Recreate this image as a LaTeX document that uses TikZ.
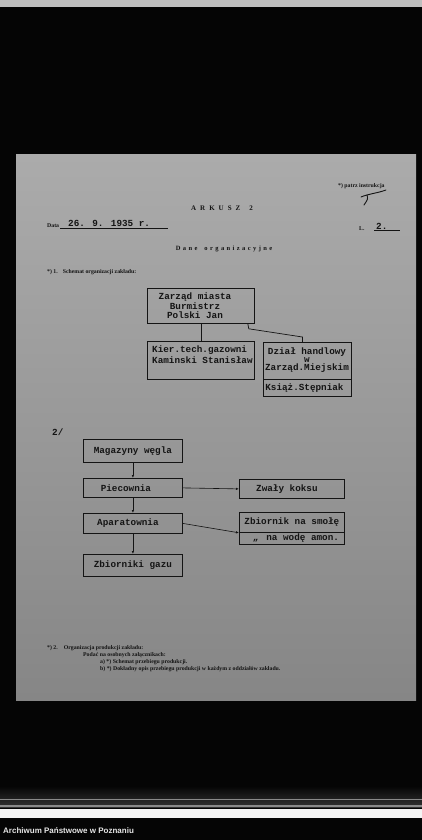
\documentclass[tikz,border=0pt]{standalone}
\usepackage{fontspec}
\setmainfont{Liberation Serif}
\newfontfamily\typewr{Liberation Mono}
\newfontfamily\archsans{Liberation Sans}
\usetikzlibrary{positioning,calc,arrows.meta}
\usepackage{xcolor}
\definecolor{ink}{HTML}{141414}
\definecolor{papertop}{HTML}{ABABAB}
\definecolor{papermid}{HTML}{A0A0A0}
\definecolor{paperbottom}{HTML}{868686}
\definecolor{scanblack}{HTML}{050505}
\definecolor{stripgrey}{HTML}{BEBEBE}
\definecolor{streakgrey}{HTML}{333333}
\definecolor{streakline}{HTML}{8A8A8A}
\definecolor{bandwhite}{HTML}{F4F4F4}
\definecolor{captiontext}{HTML}{E6E6E6}

\tikzset{
  box/.style={draw=ink, line width=0.8pt, anchor=north west, inner sep=0pt,
    text=ink, align=center, font=\typewr\bfseries\fontsize{9.3}{10.5}\selectfont},
  typed/.style={text=ink, inner sep=0pt, font=\typewr\bfseries\fontsize{9.3}{11}\selectfont},
  formtext/.style={text=ink, inner sep=0pt, anchor=west, font=\bfseries\fontsize{5.8}{7}\selectfont},
  link/.style={draw=ink, line width=0.7pt},
  flow/.style={draw=ink, line width=0.6pt, -{Latex[length=3pt,width=2.4pt]}},
  rule/.style={draw=ink, line width=0.4pt}
}

\begin{document}
\begin{tikzpicture}[x=1pt,y=-1pt]
    \useasboundingbox (0,0) rectangle (422,840);
    % scan background
    \fill[scanblack] (0,0) rectangle (422,840);
    \fill[stripgrey] (0,0) rectangle (422,7);
    \shade[top color=papertop, middle color=papermid, bottom color=paperbottom] (16,154) rectangle (416,700);
    \shade[top color=scanblack, bottom color=streakgrey] (0,786) rectangle (422,807);
    \fill[streakline] (0,799) rectangle (422,800);
    \fill[streakline] (0,805) rectangle (422,807);
    \fill[bandwhite] (0,809) rectangle (422,818);
    \node[text=captiontext, font=\archsans\bfseries\fontsize{8}{9}\selectfont, anchor=west, inner sep=0pt] (archiwum) at (3,831) {Archiwum Państwowe w Poznaniu};

    % form header
    \node[formtext] (patrz) at (338,186) {*) patrz instrukcja};
    \draw[ink, line width=0.9pt, line cap=round] (361,197) .. controls (368,194) and (378,193) .. (386,190);
    \draw[ink, line width=0.9pt, line cap=round] (367,195) .. controls (368,199) .. (364,205);
    \node[text=ink, inner sep=0pt, font=\bfseries\fontsize{7}{8}\selectfont] (arkusz) at (222,208)
      {A\hspace{4pt}R\hspace{4pt}K\hspace{4pt}U\hspace{4pt}S\hspace{4pt}Z\hspace{9pt}2};
    \node[formtext] (data) at (47,226) {Data};
    \node[typed, anchor=west] (datum) at (68,223) {26. 9. 1935 r.};
    \draw[rule] (60,228) -- (168,228);
    \node[formtext] (lnr) at (359,229) {L.};
    \node[typed, anchor=west] (lnum) at (376,226) {2.};
    \draw[rule] (374,230) -- (400,230);
    \node[text=ink, inner sep=0pt, font=\bfseries\fontsize{6.5}{8}\selectfont] (dane) at (224,249)
      {D\hspace{2.4pt}a\hspace{2.4pt}n\hspace{2.4pt}e\hspace{7pt}o\hspace{2.4pt}r\hspace{2.4pt}g\hspace{2.4pt}a\hspace{2.4pt}n\hspace{2.4pt}i\hspace{2.4pt}z\hspace{2.4pt}a\hspace{2.4pt}c\hspace{2.4pt}y\hspace{2.4pt}j\hspace{2.4pt}n\hspace{2.4pt}e};
    \node[formtext] (punkt1) at (47,272) {*) 1.\hspace{5pt}Schemat organizacji zakładu:};

    % schemat 1
    \node[box, minimum width=107pt, minimum height=35pt] (zarzad) at (147,288) {};
    \node[typed, align=center, font=\typewr\bfseries\fontsize{9.3}{9.6}\selectfont] (zarzadtxt) at (195,306) {Zarząd miasta\\Burmistrz\\Polski Jan};
    \node[box, minimum width=107pt, minimum height=38pt] (kier) at (147,341) {};
    \node[typed, align=left, anchor=north west] (kiertxt) at (152,346) {Kier.tech.gazowni\\Kaminski Stanisław};
    \node[box, minimum width=88pt, minimum height=37pt] (dzial) at (263,342) {};
    \node[typed, align=center, font=\typewr\bfseries\fontsize{9.3}{8.2}\selectfont] (dzialtxt) at (307,360) {Dział handlowy\\w\\Zarząd.Miejskim};
    \node[box, minimum width=88pt, minimum height=17pt, text width=84pt, align=left] (ksiaz) at (263,379) {Książ.Stępniak};

    \draw[link] (zarzad.south) -- (kier.north);
    \draw[link] ($(zarzad.south east)+(-7,0)$) -- ++(1,5) -- ($(dzial.north)+(-5,-5)$) -- ($(dzial.north)+(-5,0)$);

    % schemat 2
    \node[typed, anchor=west] (dwa) at (52,432) {2/};
    \node[box, minimum width=99pt, minimum height=23pt] (magazyny) at (83,439) {Magazyny węgla};
    \node[box, minimum width=99pt, minimum height=19pt] (piecownia) at (83,478) {Piecownia\hspace{14pt}};
    \node[box, minimum width=99pt, minimum height=20pt] (aparatownia) at (83,513) {Aparatownia\hspace{10pt}};
    \node[box, minimum width=99pt, minimum height=22pt] (zbiorniki) at (83,554) {Zbiorniki gazu};
    \node[box, minimum width=105pt, minimum height=19pt] (zwaly) at (239,479) {Zwały koksu\hspace{10pt}};
    \node[box, minimum width=105pt, minimum height=20pt] (smola) at (239,512) {Zbiornik na smołę};
    \node[box, minimum width=105pt, minimum height=12pt, font=\typewr\bfseries\fontsize{9.3}{9}\selectfont] (woda) at (239,532) {\hspace{8pt}„\hspace{8pt}na wodę amon.};

    \draw[flow] (magazyny.south) -- (piecownia.north);
    \draw[flow] (piecownia.south) -- (aparatownia.north);
    \draw[flow] (aparatownia.south) -- (zbiorniki.north);
    \draw[flow] (piecownia.east) -- (zwaly.west);
    \draw[flow] (aparatownia.east) -- (smola.south west);

    % footnote
    \node[formtext] (punkt2) at (47,648) {*) 2.\hspace{6pt}Organizacja produkcji zakładu:};
    \node[formtext] (podac) at (83,655) {Podać na osobnych załącznikach:};
    \node[formtext] (punkta) at (100,662) {a) *) Schemat przebiegu produkcji.};
    \node[formtext] (punktb) at (100,669) {b) *) Dokładny opis przebiegu produkcji w każdym z oddziałów zakładu.};
\end{tikzpicture}
\end{document}
